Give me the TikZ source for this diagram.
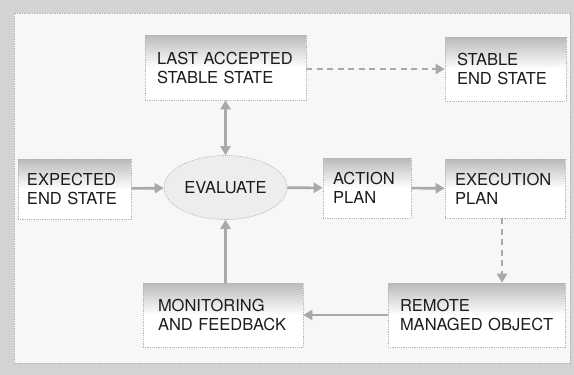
\documentclass[tikz,border=0pt]{standalone}
\usepackage{fontspec}
\setmainfont{TeX Gyre Heros}
\usetikzlibrary{arrows.meta,shapes.geometric}

% grey at the top of a box, fading to white half way down
\pgfdeclareverticalshading{boxshade}{100bp}{color(0bp)=(white); color(25bp)=(white); color(50bp)=(white); color(75bp)=(black!27); color(100bp)=(black!27)}

\definecolor{bandgray}{HTML}{D3D3D1}
\definecolor{panelwhite}{HTML}{F7F7F5}
\definecolor{edgegray}{HTML}{B4B4B4}
\definecolor{arrowgray}{HTML}{A9A9A9}
\definecolor{inkgray}{HTML}{1C1C1C}

\tikzset{
  lbl/.style={font=\fontsize{16.5}{19}\selectfont, text=inkgray},
  blk/.style={lbl, shading=boxshade, draw=edgegray, line width=0.6pt,
    dash pattern=on 1.2pt off 1pt, align=left, inner ysep=0pt},
  oval/.style={lbl, ellipse, fill=black!7, draw=edgegray, line width=0.6pt,
    dash pattern=on 1.2pt off 1pt, inner sep=0pt},
  flow/.style={draw=arrowgray, line width=2.6pt, solid,
    -{Triangle[width=10pt,length=9pt]}},
  flowback/.style={flow, {Triangle[width=10pt,length=9pt]}-{Triangle[width=10pt,length=9pt]}},
  dflow/.style={flow, dash pattern=on 6pt off 4.5pt}
}

\begin{document}
\begin{tikzpicture}[x=1pt,y=-1pt]
  \useasboundingbox (0,0) rectangle (574,375);
  % frame band and inner panel
  \fill[bandgray] (0,0) rectangle (574,375);
  \filldraw[fill=panelwhite, draw=edgegray, line width=0.5pt,
    dash pattern=on 1.5pt off 1pt] (14,13) rectangle (570,363);

  % boxes
  \node[blk, text width=137pt, inner xsep=12pt, minimum height=65pt] (last) at (225.5,67.5)
    {\mbox{LAST ACCEPTED}\\\mbox{STABLE STATE}};
  \node[blk, text width=97pt, inner xsep=12pt, minimum height=64pt] (stable) at (505.5,69)
    {\mbox{STABLE}\\\mbox{END STATE}};
  \node[blk, text width=95pt, inner xsep=9pt, minimum height=60pt] (expected) at (74.5,189)
    {\mbox{EXPECTED}\\\mbox{END STATE}};
  \node[oval, minimum width=123pt, minimum height=64pt] (eval) at (225.5,187.5) {EVALUATE};
  \node[blk, text width=68pt, inner xsep=10pt, minimum height=60pt] (action) at (367,188)
    {\mbox{ACTION}\\\mbox{PLAN}};
  \node[blk, text width=100pt, inner xsep=10pt, minimum height=59pt] (exec) at (505,188.5)
    {\mbox{EXECUTION}\\\mbox{PLAN}};
  \node[blk, text width=130pt, inner xsep=15pt, minimum height=64pt] (monitor) at (223,315)
    {\mbox{MONITORING}\\\mbox{AND FEEDBACK}};
  \node[blk, text width=153pt, inner xsep=12pt, minimum height=64pt] (remote) at (476.5,315)
    {\mbox{REMOTE}\\\mbox{MANAGED OBJECT}};

  % connectors
  \draw[flow] (expected) -- (eval);
  \draw[flow] (eval) -- (action);
  \draw[flow] (action) -- (exec);
  \draw[flowback] (last.south -| eval.north) -- (eval.north);
  \draw[dflow] (last.east |- stable.west) -- (stable.west);
  \draw[dflow] ([xshift=-3pt]exec.south) -- ([xshift=-3pt]exec.south |- remote.north);
  \draw[flow] (remote.west) -- (monitor.east);
  \draw[flow] (monitor.north -| eval.south) -- (eval.south);
\end{tikzpicture}
\end{document}
